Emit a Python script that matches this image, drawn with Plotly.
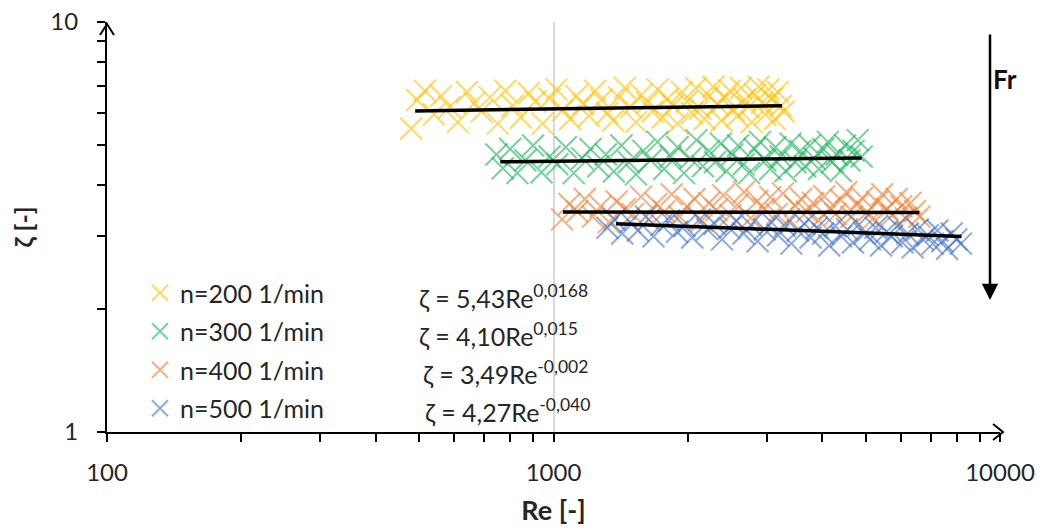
import plotly.graph_objects as go

FONT = "Lato, Liberation Sans, sans-serif"

series_names = ["n=200 1/min", "n=300 1/min", "n=400 1/min", "n=500 1/min"]
series_colors = ["#FFC000", "#1DB35A", "#ED7D31", "#4472C4"]

re_200 = [
    480, 495, 515, 540, 560, 585, 610, 640, 665, 690,
    720, 750, 780, 810, 845, 880, 910, 945, 980, 1015,
    1050, 1090, 1125, 1165, 1200, 1240, 1280, 1320, 1360, 1400,
    1445, 1490, 1530, 1575, 1620, 1665, 1710, 1755, 1800, 1850,
    1895, 1940, 1990, 2040, 2085, 2130, 2180, 2230, 2280, 2330,
    2380, 2430, 2480, 2530, 2580, 2630, 2680, 2730, 2780, 2830,
    2880, 2930, 2980, 3030, 3080, 3130, 3180, 3230, 3280]
zeta_200 = [
    5.50, 6.45, 6.80, 5.95, 6.60, 6.20, 5.70, 6.75, 6.35, 6.05,
    6.55, 5.65, 6.80, 6.25, 5.85, 6.70, 6.40, 5.65, 6.50, 6.85,
    6.10, 5.80, 6.60, 6.30, 5.90, 6.80, 6.45, 6.00, 5.75, 6.55,
    6.90, 6.20, 5.70, 6.65, 6.35, 6.05, 6.85, 5.85, 6.50, 6.25,
    5.65, 6.75, 6.40, 6.00, 6.90, 6.15, 5.80, 6.60, 6.95, 6.30,
    5.75, 6.55, 6.80, 6.10, 5.90, 6.90, 6.45, 6.20, 5.70, 6.65,
    6.95, 6.35, 5.95, 6.85, 6.50, 5.80, 6.75, 6.25, 6.05]

re_300 = [
    745, 770, 800, 830, 865, 900, 940, 980, 1020, 1065,
    1110, 1160, 1210, 1260, 1310, 1365, 1420, 1475, 1530, 1590,
    1650, 1710, 1770, 1830, 1895, 1960, 2025, 2090, 2160, 2230,
    2300, 2370, 2440, 2515, 2590, 2665, 2740, 2820, 2900, 2980,
    3060, 3140, 3225, 3310, 3395, 3480, 3570, 3660, 3750, 3840,
    3930, 4020, 4115, 4210, 4305, 4400, 4500, 4600, 4700, 4800, 4900]
zeta_300 = [
    4.75, 4.40, 4.90, 4.28, 4.60, 5.00, 4.30, 4.70, 4.50, 4.95,
    4.28, 4.65, 4.90, 4.45, 4.75, 4.32, 5.00, 4.55, 4.25, 4.85,
    4.60, 5.10, 4.38, 4.70, 4.95, 4.28, 4.65, 5.15, 4.45, 4.85,
    4.55, 5.05, 4.33, 4.75, 5.00, 4.50, 4.28, 4.90, 5.10, 4.60,
    4.38, 4.95, 4.70, 4.33, 5.05, 4.55, 4.85, 4.45, 5.00, 4.65,
    4.38, 4.90, 5.10, 4.55, 4.75, 4.33, 5.00, 4.60, 4.85, 5.15, 4.70]

re_400 = [
    1045, 1085, 1130, 1175, 1225, 1275, 1330, 1385, 1445, 1505,
    1570, 1635, 1700, 1770, 1840, 1915, 1990, 2070, 2150, 2230,
    2315, 2400, 2490, 2580, 2670, 2765, 2860, 2960, 3060, 3160,
    3265, 3370, 3475, 3585, 3695, 3810, 3925, 4040, 4160, 4280,
    4400, 4525, 4650, 4780, 4910, 5040, 5175, 5310, 5450, 5590,
    5730, 5870, 6010, 6150, 6300, 6450, 6600]
zeta_400 = [
    3.30, 3.60, 3.45, 3.70, 3.35, 3.55, 3.25, 3.65, 3.50, 3.40,
    3.75, 3.30, 3.60, 3.45, 3.80, 3.35, 3.55, 3.70, 3.28, 3.62,
    3.48, 3.78, 3.38, 3.58, 3.85, 3.32, 3.66, 3.50, 3.74, 3.40,
    3.82, 3.30, 3.56, 3.70, 3.45, 3.62, 3.28, 3.76, 3.52, 3.40,
    3.68, 3.85, 3.35, 3.58, 3.72, 3.44, 3.30, 3.64, 3.80, 3.50,
    3.38, 3.70, 3.55, 3.32, 3.62, 3.46, 3.35]

re_500 = [
    1320, 1370, 1425, 1485, 1545, 1610, 1675, 1745, 1815, 1890,
    1965, 2045, 2125, 2210, 2295, 2385, 2475, 2570, 2665, 2765,
    2865, 2970, 3075, 3185, 3295, 3410, 3525, 3645, 3765, 3890,
    4015, 4145, 4275, 4410, 4545, 4685, 4825, 4970, 5115, 5265,
    5415, 5570, 5725, 5885, 6045, 6210, 6375, 6545, 6715, 6890,
    7065, 7245, 7425, 7610, 7795, 7985, 8175]
zeta_500 = [
    3.15, 3.30, 3.05, 3.25, 3.10, 3.35, 3.00, 3.20, 3.28, 3.08,
    3.18, 2.98, 3.30, 3.12, 3.22, 2.95, 3.15, 3.27, 3.05, 3.20,
    2.92, 3.12, 3.25, 3.02, 3.18, 2.88, 3.10, 3.22, 2.98, 3.15,
    3.05, 2.85, 3.18, 3.00, 3.12, 2.90, 3.20, 3.05, 2.95, 3.15,
    2.85, 3.08, 3.00, 3.18, 2.90, 3.05, 2.82, 3.12, 2.95, 3.02,
    2.88, 3.10, 2.92, 2.80, 3.05, 2.95, 2.88]

# trend line end points
trend_re_200 = [490, 3250]
trend_zeta_200 = [6.07, 6.25]
trend_re_300 = [760, 4900]
trend_zeta_300 = [4.56, 4.66]
trend_re_400 = [1050, 6600]
trend_zeta_400 = [3.44, 3.43]
trend_re_500 = [1380, 8200]
trend_zeta_500 = [3.22, 3.00]

equations = [
    "ζ = 5,43Re<sup>0,0168</sup>",
    "ζ = 4,10Re<sup>0,015</sup>",
    "ζ = 3,49Re<sup>-0,002</sup>",
    "ζ = 4,27Re<sup>-0,040</sup>",
]

x_tick_vals = [100, 1000, 10000]
x_tick_text = ["100", "1000", "10000"]
y_tick_vals = [1, 10]
y_tick_text = ["1", "10"]

scatter_data = [(re_200, zeta_200), (re_300, zeta_300), (re_400, zeta_400), (re_500, zeta_500)]
trend_data = [(trend_re_200, trend_zeta_200), (trend_re_300, trend_zeta_300),
              (trend_re_400, trend_zeta_400), (trend_re_500, trend_zeta_500)]

fig = go.Figure()
for i, (name, color, (xs, ys)) in enumerate(zip(series_names, series_colors, scatter_data)):
    fig.add_trace(go.Scatter(
        x=xs, y=ys, mode="markers", name=name, legendgroup=f"g{i}",
        marker=dict(symbol="x-thin", size=22, color=color, opacity=0.6,
                    line=dict(width=2, color=color)),
    ))
for xs, ys in trend_data:
    fig.add_trace(go.Scatter(x=xs, y=ys, mode="lines", showlegend=False,
                             line=dict(color="black", width=3.5)))

# the page body has an 8px margin, so the figure starts at (8, 8) in the window
OFF = 8
W, H = 1044 - OFF, 530 - OFF
PLOT_L, PLOT_R, PLOT_T, PLOT_B = 107, 1000, 22, 432   # window pixels
L = PLOT_L - OFF
R = W + OFF - PLOT_R
T = PLOT_T - OFF
B = H + OFF - PLOT_B
PW, PH = PLOT_R - PLOT_L, PLOT_B - PLOT_T

def px(xp):
    return (xp - PLOT_L) / PW

def py(yp):
    return (PLOT_B - yp) / PH

annotations = []
eq_pos = [(417, 297), (417, 334), (421, 372), (423, 410)]
for txt, (ex, ey) in zip(equations, eq_pos):
    annotations.append(dict(xref="paper", yref="paper", x=px(ex), y=py(ey), text=txt,
                            showarrow=False, xanchor="left", yanchor="middle",
                            font=dict(family=FONT, size=25, color="#262626")))
annotations.append(dict(xref="paper", yref="paper", x=px(1019), y=py(61), text="<b>Fr</b>",
                        showarrow=False, font=dict(family=FONT, size=26, color="#111111")))
annotations.append(dict(xref="paper", yref="paper", x=px(990), y=py(300), ax=0, ay=-267,
                        axref="pixel", ayref="pixel", text="", showarrow=True,
                        arrowhead=2, arrowsize=1.3, arrowwidth=2.5, arrowcolor="black"))

shapes = [
    # x-axis arrow (open chevron)
    dict(type="path", xref="paper", yref="paper",
         path=f"M {px(993)} {py(424)} L {px(1003)} {py(432)} L {px(993)} {py(440)}",
         line=dict(color="black", width=2)),
    # y-axis arrow
    dict(type="path", xref="paper", yref="paper",
         path=f"M {px(100)} {py(35)} L {px(107)} {py(24)} L {px(114)} {py(35)}",
         line=dict(color="black", width=2)),
]

fig.update_layout(
    width=W, height=H,
    margin=dict(l=L, r=R, t=T, b=B, autoexpand=False),
    paper_bgcolor="white", plot_bgcolor="white",
    font=dict(family=FONT, size=25, color="#262626"),
    showlegend=True,
    legend=dict(x=px(140), y=py(270), xanchor="left", yanchor="top",
                bgcolor="rgba(0,0,0,0)", tracegroupgap=3,
                font=dict(family=FONT, size=25, color="#262626"),
                itemsizing="trace"),
    annotations=annotations,
    shapes=shapes,
    xaxis=dict(type="log", range=[2, 4], showline=True, linecolor="black", linewidth=2,
               automargin=False, ticklabeloverflow="allow",
               tickvals=x_tick_vals, ticktext=x_tick_text,
               ticks="outside", ticklen=8, tickwidth=2, tickcolor="black",
               showgrid=True, gridcolor="#d9d9d9", gridwidth=2,
               minor=dict(ticks="outside", ticklen=8, tickwidth=2, tickcolor="black",
                          dtick="D1", showgrid=False),
               ticklabelstandoff=10,
               tickfont=dict(family=FONT, size=24, color="#262626"),
               title=dict(text="<b>Re [-]</b>", standoff=16,
                          font=dict(family=FONT, size=27, color="#262626")),
               zeroline=False),
    yaxis=dict(type="log", range=[0, 1], showline=True, linecolor="black", linewidth=2,
               automargin=False, ticklabeloverflow="allow",
               tickvals=y_tick_vals, ticktext=y_tick_text,
               ticks="outside", ticklen=8, tickwidth=2, tickcolor="black",
               showgrid=False,
               minor=dict(ticks="outside", ticklen=8, tickwidth=2, tickcolor="black",
                          dtick="D1", showgrid=False),
               ticklabelstandoff=14,
               tickfont=dict(family=FONT, size=24, color="#262626"),
               title=dict(text="<b>ζ [-]</b>", standoff=26,
                          font=dict(family=FONT, size=25, color="#262626")),
               zeroline=False),
)

fig.write_html("out.html")
